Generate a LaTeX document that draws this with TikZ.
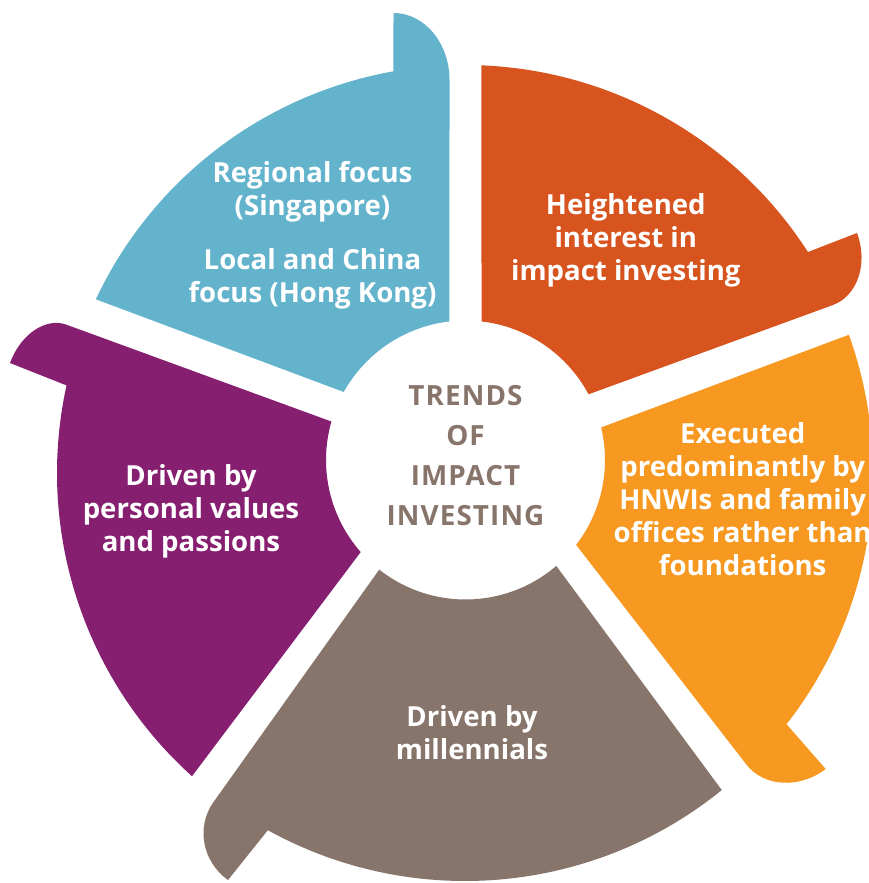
\documentclass[tikz,border=0pt]{standalone}
\usepackage{fontspec}
\setmainfont{Open Sans}
\usetikzlibrary{calc}
\definecolor{cblue}{RGB}{99,179,204}
\definecolor{cred}{RGB}{216,84,31}
\definecolor{corange}{RGB}{247,152,32}
\definecolor{cbrown}{RGB}{135,116,106}
\definecolor{cpurple}{RGB}{135,31,113}
\begin{document}
\begin{tikzpicture}[x=1pt,y=-1pt,
  lbl/.style={text=white, font=\fontsize{27.6}{33}\selectfont\bfseries, align=center, inner sep=0pt},
  ctr/.style={text=cbrown, font=\fontsize{27.8}{40}\selectfont\bfseries\addfontfeatures{LetterSpace=4}, align=center, inner sep=0pt}]
\fill[white] (0,0) rectangle (869,883);
\useasboundingbox (0,0) rectangle (869,883);
\coordinate (IC) at (465.5,460);
\coordinate (OC) at (465,473);
% blue
\fill[cblue] ($(IC)+(-150.8:139.5)$) arc[start angle=-150.8, end angle=-96.6, radius=139.5]
  -- (449.5,80) arc[start angle=0, end angle=-90, x radius=56, y radius=67]
  -- ($(OC)+(-100.1:408)$) arc[start angle=-100.1, end angle=-154.8, radius=408] -- cycle;
% red
\fill[cred] ($(OC)+(-87.7:408)$) arc[start angle=-87.7, end angle=-32.8, radius=408]
  -- (857,233) .. controls (868.4,263.5) and (857.6,295.8) .. (833,305)
  -- ($(IC)+(-28.1:139.5)$) arc[start angle=-28.1, end angle=-83.4, radius=139.5] -- cycle;
% orange
\fill[corange] ($(IC)+(-13.5:139.5)$) -- ($(OC)+(-19.8:408)$) arc[start angle=-19.8, end angle=38, radius=408]
  -- (825.7,769) .. controls (798.9,789.2) and (763.3,786.9) .. (746,764)
  -- ($(IC)+(37.5:139.5)$) arc[start angle=37.5, end angle=-13.5, radius=139.5] -- cycle;
% brown
\fill[cbrown] ($(IC)+(49.4:139.5)$) -- ($(OC)+(51:408)$) arc[start angle=51, end angle=118.9, radius=408]
  -- (228,880) .. controls (202.3,861.7) and (195.8,827.0) .. (213.4,802.2)
  -- ($(IC)+(128.2:139.5)$) arc[start angle=128.2, end angle=49.4, radius=139.5] -- cycle;
% purple
\fill[cpurple] ($(IC)+(138.7:139.5)$) -- ($(OC)+(132:408)$) arc[start angle=132, end angle=192.4, radius=408]
  -- (10,363) .. controls (20.5,334.3) and (45.7,317.1) .. (66.5,324.7)
  -- ($(IC)+(196:139.5)$) arc[start angle=196, end angle=138.7, radius=139.5] -- cycle;
% labels
\node[lbl] (t1a) at (312.5,192) {Regional focus\\(Singapore)};
\node[lbl] (t1b) at (312.5,279) {Local and China\\focus (Hong Kong)};
\node[lbl] (t2) at (625.8,240.5) {Heightened\\interest in\\impact investing};
\node[lbl] (t3) at (742.7,498.7) {Executed\\predominantly by\\HNWIs and family\\offices rather than\\foundations};
\node[lbl] (t4) at (472,732.7) {Driven by\\millennials};
\node[lbl] (t5) at (191,511.4) {Driven by\\personal values\\and passions};
\node[ctr] (c) at (465.5,456) {TRENDS\\OF\\IMPACT\\INVESTING};
\end{tikzpicture}
\end{document}
